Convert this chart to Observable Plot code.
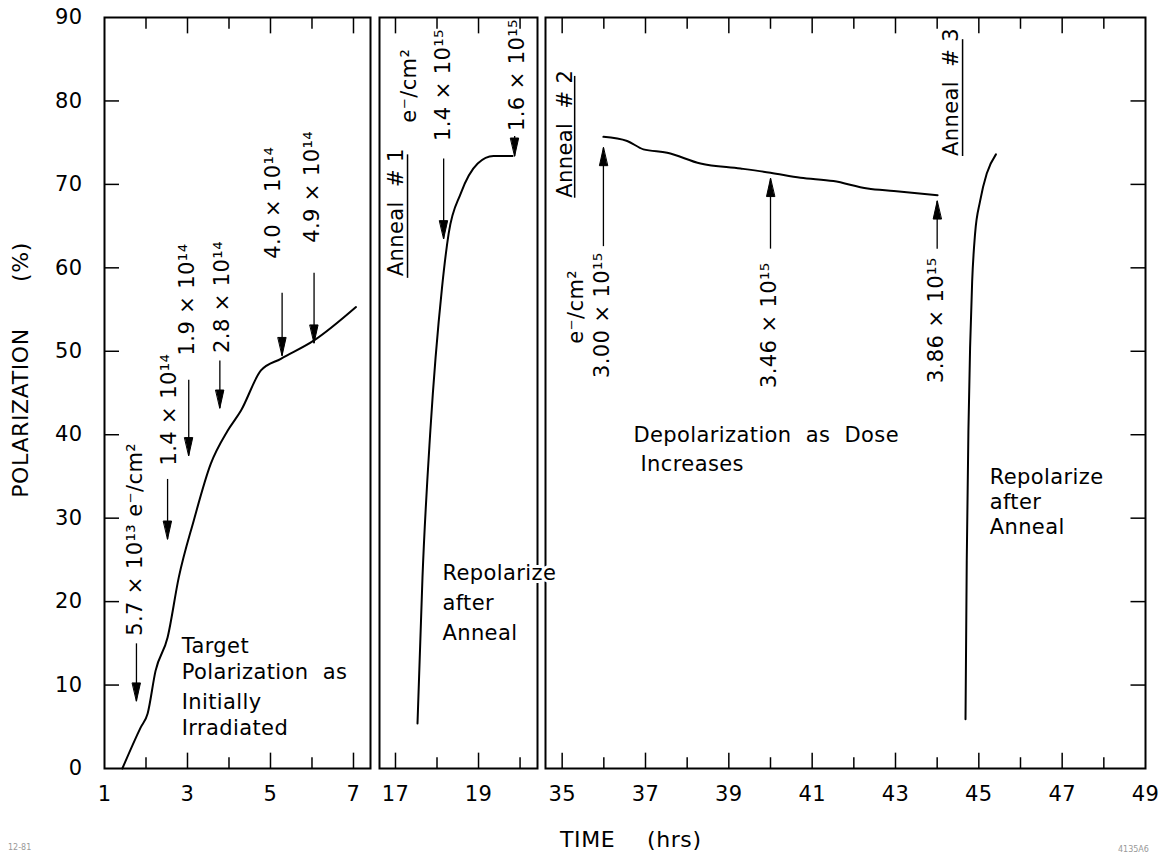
<!DOCTYPE html>
<html><head><meta charset="utf-8">
<script src="https://cdn.jsdelivr.net/npm/d3@7"></script>
<script src="https://cdn.jsdelivr.net/npm/@observablehq/plot@0.6"></script>
<style>
body{margin:0;background:#fff;}
#chart{position:relative;width:1170px;height:858px;overflow:hidden;}
.lab{position:absolute;font-family:"DejaVu Sans";color:#000;white-space:pre;letter-spacing:0.6px;}
.rot{transform:translate(-50%,-50%) rotate(-90deg);}
.foot{position:absolute;font-family:"DejaVu Sans";font-size:8px;color:#999;}
</style></head><body><div id="chart">
<div class="lab rot" style="left:20px;top:413px;font-size:22px;">POLARIZATION</div>
<div class="lab rot" style="left:20px;top:262px;font-size:22px;">(%)</div>
<div class="lab" style="left:560px;top:827px;font-size:22px;">TIME</div>
<div class="lab" style="left:647px;top:827px;font-size:22px;">(hrs)</div>
<div class="foot" style="left:8px;top:843px;">12-81</div>
<div class="foot" style="left:1118px;top:845px;">4135A6</div>
</div>
<script>
// ---------- data ----------
const yTickValues = [0,10,20,30,40,50,60,70,80,90];
const yInnerTicks = [10,20,30,40,50,60,70,80];
const xLabels1 = [1,3,5,7];
const xLabels2 = [17,19];
const xLabels3 = [35,37,39,41,43,45,47,49];
const xTicks1 = [2,3,4,5,6,7];
const xTicks2 = [17,18,19,20];
const xTicks3 = [35,36,37,38,39,40,41,42,43,44,45,46,47,48];

// Panel 1: initial irradiation
const curve1Time = [1.43,1.87,2.04,2.23,2.52,2.79,3.15,3.56,3.97,4.29,4.77,5.25,6.05,7.06];
const curve1Pol  = [0,4.9,6.6,11.7,15.7,22.9,29.7,36.5,40.5,42.9,47.7,49.1,51.3,55.3];
const arrows1Time = [1.77,2.52,3.03,3.78,5.28,6.05];
const arrows1Tail = [15.0,34.7,46.6,48.9,57.0,59.4];
const arrows1Tip  = [8.1,27.5,37.5,43.2,49.5,51.0];
const labels1Text = ["5.7 × 10¹³ e⁻/cm²","1.4 × 10¹⁴","1.9 × 10¹⁴","2.8 × 10¹⁴","4.0 × 10¹⁴","4.9 × 10¹⁴"];
const labels1Time = [1.74,2.57,3.0,3.84,5.07,6.01];
const labels1Start = [15.9,36.3,49.5,49.8,61.1,63.0];
const notes1Text = ["Target","Polarization  as","Initially","Irradiated"];
const notes1Time = [2.86,2.86,2.86,2.86];
const notes1Pol  = [14.7,11.5,7.9,4.8];

// Panel 2: repolarize after anneal #1
const curve2Time = [17.53,17.65,17.84,18.12,18.28,18.57,18.98,19.36,19.82];
const curve2Pol  = [5.4,22.9,40.5,57.6,64.1,68.9,72.5,73.4,73.4];
const arrows2Time = [18.16,19.87];
const arrows2Tail = [73.1,75.8];
const arrows2Tip  = [63.5,73.4];
const labels2Text = ["e⁻/cm²","1.4 × 10¹⁵","1.6 × 10¹⁵","Anneal  # 1"];
const labels2Time = [17.34,18.16,19.94,17.03];
const labels2Start = [77.4,75.2,76.4,59.0];
const under2Time = [17.29];
const under2From = [58.8];
const under2To   = [73.6];
const notes2Text = ["Repolarize","after","Anneal"];
const notes2Time = [18.13,18.13,18.13];
const notes2Pol  = [23.4,19.8,16.2];

// Panel 3: depolarization, anneal #3, repolarize
const curve3Time = [35.99,36.56,36.95,37.52,38.32,39.28,40.0,40.72,41.51,42.33,42.96,44.01];
const curve3Pol  = [75.7,75.2,74.2,73.8,72.5,71.9,71.4,70.8,70.4,69.5,69.2,68.7];
const curve4Time = [44.68,44.71,44.75,44.79,44.84,44.91,45.03,45.19,45.41];
const curve4Pol  = [5.9,24.9,40.5,50.4,58.4,64.1,68.0,71.3,73.6];
const arrows3Time = [35.99,40.0,44.0];
const arrows3Tail = [62.6,62.3,62.3];
const arrows3Tip  = [74.4,70.7,68.0];
const labels3Text = ["Anneal  # 2","e⁻/cm²","3.00 × 10¹⁵","3.46 × 10¹⁵","3.86 × 10¹⁵","Anneal  # 3"];
const labels3Time = [35.08,35.34,35.97,39.98,43.98,44.34];
const labels3Start = [68.4,50.9,46.8,45.6,46.2,73.4];
const under3Time = [35.3,44.61];
const under3From = [68.4,73.4];
const under3To   = [83.0,87.4];
const notes3Text = ["Depolarization  as  Dose","Increases","Repolarize","after","Anneal"];
const notes3Time = [36.71,36.88,45.26,45.26,45.26];
const notes3Pol  = [39.9,36.5,34.9,31.9,28.9];

// ---------- helpers ----------
const pts = (t, v) => t.map((x, i) => ({t: x, v: v[i]}));
const arr = (t, tail, tip) => t.map((v, i) => ({t: v, tail: tail[i], tip: tip[i]}));
const txt = (s, t, v) => s.map((x, i) => ({s: x, t: t[i], v: v[i]}));
const und = (t, a, b) => t.map((v, i) => ({t: v, y1: a[i], y2: b[i]}));
const tks = (t) => t.map(v => ({t: v, len: v % 2 ? 1.9 : 1.35}));
const yTks = (vals, a, b) => vals.map(v => ({v, a, b}));

const head = {draw(ctx, l) { ctx.moveTo(0, -l); ctx.lineTo(-4, 0); ctx.lineTo(4, 0); ctx.closePath(); }};
const FS = 21;
const fmt = d => String(d);
const svgStyle = "position:absolute;left:0;top:0;background:transparent;overflow:visible;font-family:'DejaVu Sans';font-size:21px;letter-spacing:0.4px;";

function xTickMarks(ticks) {
  return [
    Plot.link(tks(ticks), {x1: "t", x2: "t", y1: () => 0, y2: "len", strokeWidth: 1.5}),
    Plot.link(tks(ticks), {x1: "t", x2: "t", y1: () => 90, y2: d => 90 - d.len, strokeWidth: 1.5})
  ];
}
function yTickMarks(vals, a, b) {
  return Plot.link(yTks(vals, a, b), {y1: "v", y2: "v", x1: "a", x2: "b", strokeWidth: 1.5});
}
function arrowMarks(a, dir) {
  return [
    Plot.link(a, {x1: "t", x2: "t", y1: "tail", y2: "tip", strokeWidth: 1.3}),
    Plot.vector(a, {x: "t", y: "tip", rotate: dir, length: 18, anchor: "end", shape: head, fill: "black", stroke: "black", strokeWidth: 1})
  ];
}
function rotLabels(data, opts = {}) {
  return Plot.text(data, {x: "t", y: "v", text: "s", rotate: -90, textAnchor: "start", fontSize: FS, fill: "black", ...opts});
}
function notes(data, opts = {}) {
  return Plot.text(data, {x: "t", y: "v", text: "s", textAnchor: "start", fontSize: FS, fill: "black", ...opts});
}
function panel(domain, marginLeft, marginRight, yAxis, marks) {
  return Plot.plot({
    width: 1170, height: 858,
    marginLeft, marginRight, marginTop: 17, marginBottom: 90,
    x: {domain},
    y: yAxis ? {domain: [0, 90]} : {domain: [0, 90], axis: null},
    style: svgStyle,
    marks
  });
}

// ---------- panels ----------
const p1 = panel([1, 7.41], 104, 800, true, [
  Plot.frame({strokeWidth: 2}),
  ...xTickMarks(xTicks1),
  Plot.axisY({ticks: yTickValues, anchor: "left", tickSize: 0, tickPadding: 22, fontSize: FS, label: null, tickFormat: fmt}),
  Plot.axisX({ticks: xLabels1, anchor: "bottom", tickSize: 0, tickPadding: 18, fontSize: FS, label: null, tickFormat: fmt}),
  Plot.line(pts(curve1Time, curve1Pol), {x: "t", y: "v", curve: "monotone-x", strokeWidth: 2}),
  ...arrowMarks(arr(arrows1Time, arrows1Tail, arrows1Tip), 180),
  rotLabels(txt(labels1Text, labels1Time, labels1Start)),
  notes(txt(notes1Text, notes1Time, notes1Pol))
]);

// inner left ticks of panel 1, drawn as a narrow strip with the same y scale
const p0 = Plot.plot({
  width: 1170, height: 858,
  marginLeft: 104, marginRight: 1051, marginTop: 17, marginBottom: 90,
  x: {domain: [0, 1], axis: null},
  y: {domain: [0, 90], axis: null},
  style: "position:absolute;left:0;top:0;background:transparent;overflow:visible;",
  marks: [Plot.ruleY(yInnerTicks, {stroke: "black", strokeWidth: 1.5})]
});

const p3 = panel([34.6, 49], 545, 25, false, [
  Plot.frame({strokeWidth: 2}),
  yTickMarks(yInnerTicks, 48.64, 49),
  ...xTickMarks(xTicks3),
  Plot.axisX({ticks: xLabels3, anchor: "bottom", tickSize: 0, tickPadding: 18, fontSize: FS, label: null, tickFormat: fmt}),
  Plot.line(pts(curve3Time, curve3Pol), {x: "t", y: "v", curve: "monotone-x", strokeWidth: 2}),
  Plot.line(pts(curve4Time, curve4Pol), {x: "t", y: "v", curve: "monotone-x", strokeWidth: 2}),
  ...arrowMarks(arr(arrows3Time, arrows3Tail, arrows3Tip), 0),
  Plot.link(und(under3Time, under3From, under3To), {x1: "t", x2: "t", y1: "y1", y2: "y2", strokeWidth: 1.5}),
  rotLabels(txt(labels3Text, labels3Time, labels3Start)),
  notes(txt(notes3Text, notes3Time, notes3Pol))
]);

const p2 = panel([16.615, 20.42], 379, 633, false, [
  Plot.frame({strokeWidth: 2}),
  ...xTickMarks(xTicks2),
  Plot.axisX({ticks: xLabels2, anchor: "bottom", tickSize: 0, tickPadding: 18, fontSize: FS, label: null, tickFormat: fmt}),
  Plot.line(pts(curve2Time, curve2Pol), {x: "t", y: "v", curve: "monotone-x", strokeWidth: 2}),
  ...arrowMarks(arr(arrows2Time, arrows2Tail, arrows2Tip), 180),
  Plot.link(und(under2Time, under2From, under2To), {x1: "t", x2: "t", y1: "y1", y2: "y2", strokeWidth: 1.5}),
  rotLabels(txt(labels2Text, labels2Time, labels2Start)),
  notes(txt(notes2Text, notes2Time, notes2Pol), {stroke: "white", strokeWidth: 6, paintOrder: "stroke"})
]);

const chart = document.getElementById("chart");
chart.appendChild(p3);
chart.appendChild(p2);
chart.appendChild(p1);
chart.appendChild(p0);
</script></body></html>
